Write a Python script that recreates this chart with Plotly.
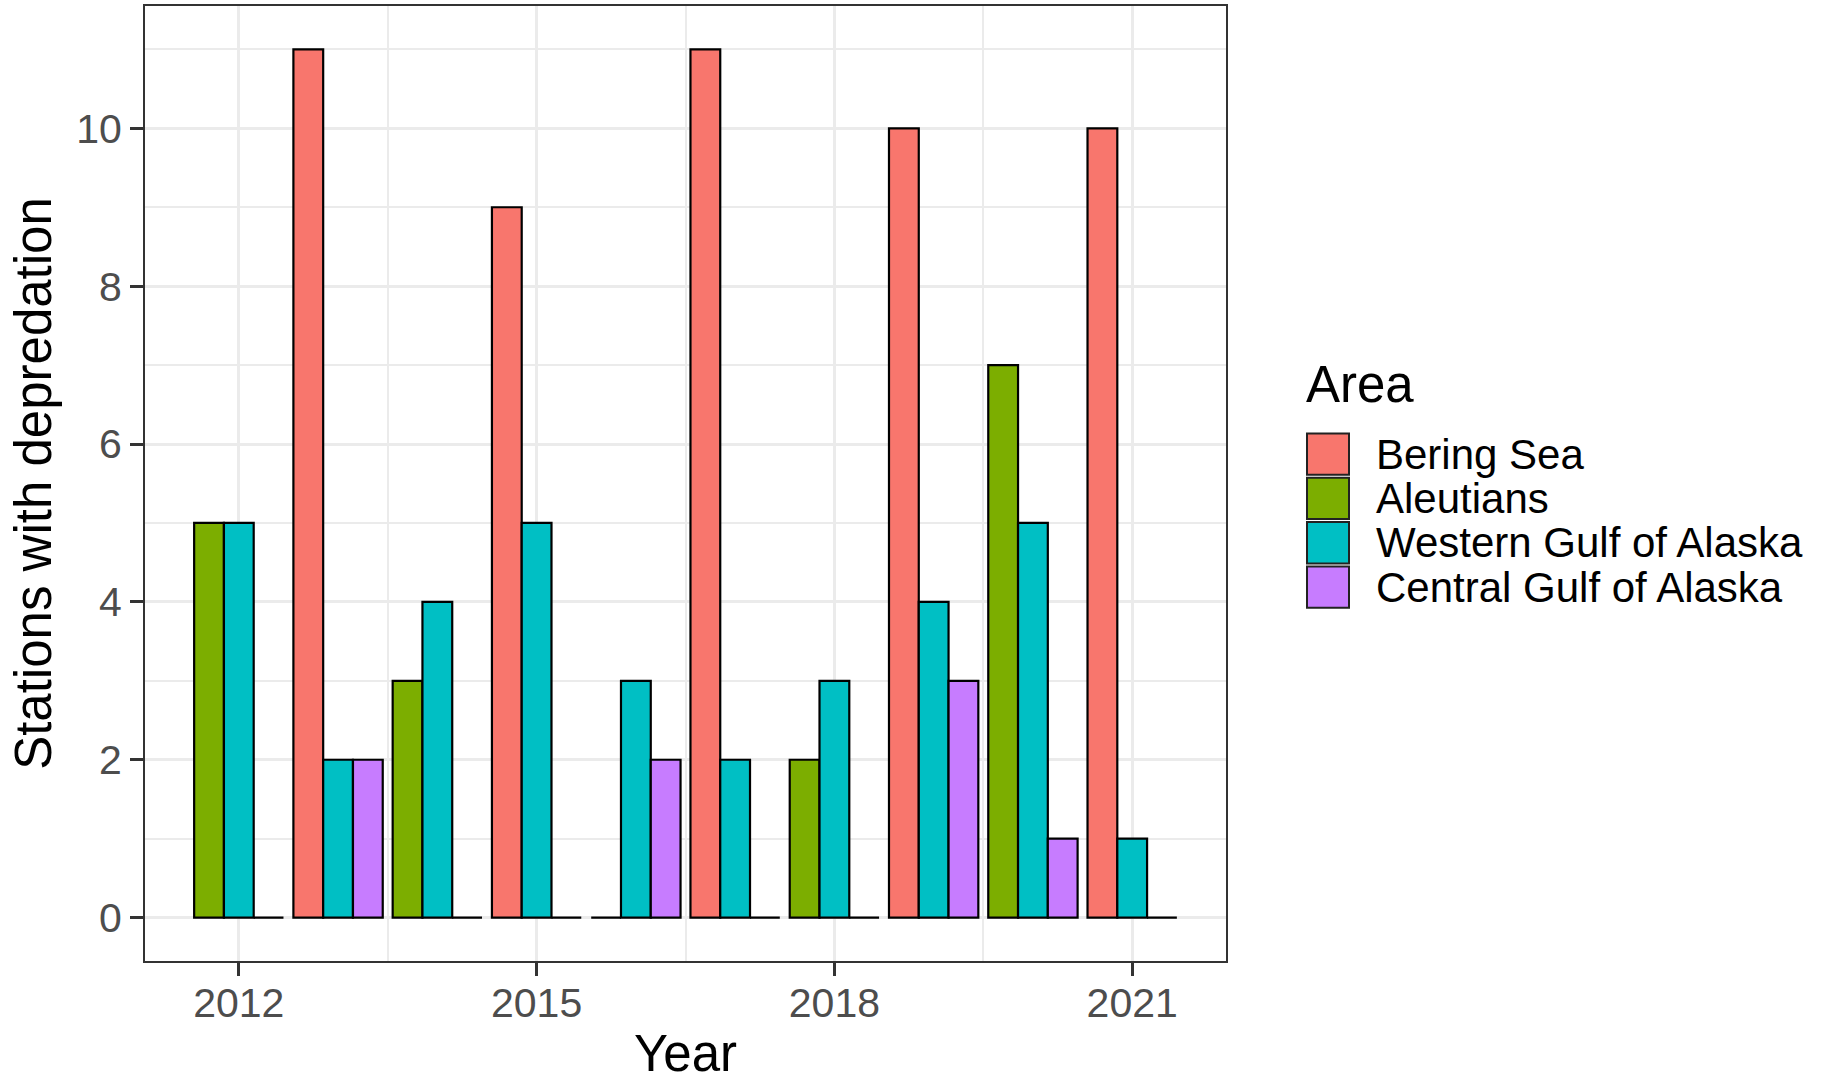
import plotly.graph_objects as go

years = [2012, 2013, 2014, 2015, 2016, 2017, 2018, 2019, 2020, 2021]
areas = ["Bering Sea", "Aleutians", "Western Gulf of Alaska", "Central Gulf of Alaska"]
bering_sea = [None, 11, None, 9, None, 11, None, 10, None, 10]
aleutians = [5, None, 3, None, 0, None, 2, None, 7, None]
western_goa = [5, 2, 4, 5, 3, 2, 3, 4, 5, 1]
central_goa = [0, 2, 0, 0, 2, 0, 0, 3, 1, 0]
x_ticks = [2012, 2015, 2018, 2021]
y_ticks = [0, 2, 4, 6, 8, 10]

colors = ["#F8766D", "#7CAE00", "#00BFC4", "#C77CFF"]
series = [bering_sea, aleutians, western_goa, central_goa]
groups = ["a", "a", "b", "c"]

FONT = "Liberation Sans, Arial, sans-serif"

fig = go.Figure()
for name, vals, col, g in zip(areas, series, colors, groups):
    fig.add_trace(go.Bar(
        x=years, y=vals, name=name, offsetgroup=g,
        marker=dict(color=col, line=dict(color="black", width=2.2)),
        showlegend=False,
    ))

W, H = 1827, 1082
L, R, T, B = 145, 1226, 6, 961

fig.update_layout(
    width=W, height=H,
    margin=dict(l=L, r=W - R, t=T, b=H - B, pad=0),
    paper_bgcolor="white", plot_bgcolor="white",
    barmode="group", bargap=0.1, bargroupgap=0,
    font=dict(family=FONT, color="black"),
    xaxis=dict(
        range=[2011.055, 2021.945], tickvals=x_ticks, ticktext=[str(v) for v in x_ticks],
        showgrid=True, gridcolor="#EBEBEB", gridwidth=3,
        minor=dict(tickvals=[2013.5, 2016.5, 2019.5], showgrid=True, gridcolor="#EBEBEB", gridwidth=1.5, ticklen=0),
        ticks="outside", ticklen=13, tickwidth=3, tickcolor="#333333",
        tickfont=dict(size=41, color="#4D4D4D", family=FONT),
        ticklabelstandoff=-8,
        showline=True, mirror=True, linecolor="#333333", linewidth=2,
        zeroline=False, automargin=False,
        title=dict(text="Year", font=dict(size=51, color="black", family=FONT), standoff=20),
    ),
    yaxis=dict(
        range=[-0.55, 11.55], tickvals=y_ticks,
        showgrid=True, gridcolor="#EBEBEB", gridwidth=3,
        minor=dict(tickvals=[1, 3, 5, 7, 9, 11], showgrid=True, gridcolor="#EBEBEB", gridwidth=1.5, ticklen=0),
        ticks="outside", ticklen=13, tickwidth=3, tickcolor="#333333",
        tickfont=dict(size=41, color="#4D4D4D", family=FONT),
        showline=True, mirror=True, linecolor="#333333", linewidth=2,
        zeroline=False, automargin=False,
        title=dict(text="Stations with depredation", font=dict(size=51, color="black", family=FONT), standoff=8),
    ),
)

# custom legend (ggplot-style), positions in page pixels converted to paper coords
def px_x(p):
    return (p - L) / (R - L)
def px_y(p):
    return (B - p) / (B - T)

shapes = []
annotations = [dict(
    x=px_x(1304), y=px_y(384), xref="paper", yref="paper", text="Area",
    showarrow=False, xanchor="left", yanchor="middle",
    font=dict(size=51, color="black", family=FONT),
)]
key_top = 432
key_h = 44.3
for i, (name, col) in enumerate(zip(areas, colors)):
    y0 = key_top + i * key_h
    shapes.append(dict(
        type="rect", xref="paper", yref="paper",
        x0=px_x(1307), x1=px_x(1349), y0=px_y(y0 + 1.5), y1=px_y(y0 + key_h - 1.5),
        fillcolor=col, line=dict(color="#222222", width=2),
    ))
    annotations.append(dict(
        x=px_x(1374), y=px_y(y0 + key_h / 2), xref="paper", yref="paper", text=name,
        showarrow=False, xanchor="left", yanchor="middle",
        font=dict(size=42, color="black", family=FONT),
    ))
fig.update_layout(shapes=shapes, annotations=annotations)

fig.write_html("out.html", config={"displayModeBar": False},
               post_script="document.body.style.margin='0';")
